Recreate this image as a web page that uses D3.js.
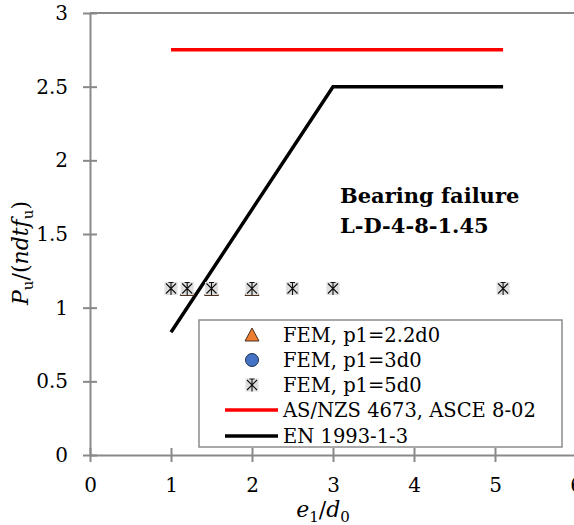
<!DOCTYPE html>
<html>
<head>
<meta charset="utf-8">
<script src="https://cdn.jsdelivr.net/npm/d3@7"></script>
<style>
  html, body { margin: 0; padding: 0; background: #fff; }
  svg text { font-family: "DejaVu Serif", "Liberation Serif", serif; fill: #000; }
</style>
</head>
<body>
<svg id="chart" width="574" height="525"></svg>
<script>
// Bearing resistance vs. end distance, L-D-4-8-1.45
const xTicks = [0, 1, 2, 3, 4, 5, 6];
const yTicks = [0, 0.5, 1, 1.5, 2, 2.5, 3];

// FEM results (normalised ultimate load)
const fem22X = [1.2, 1.5, 2.0];
const fem22Y = [1.13, 1.13, 1.13];
const fem3X = [];
const fem3Y = [];
const fem5X = [1.0, 1.2, 1.5, 2.0, 2.5, 3.0, 5.1];
const fem5Y = [1.13, 1.13, 1.13, 1.13, 1.13, 1.13, 1.13];

// Design code predictions
const asnzsX = [1.0, 5.1];
const asnzsY = [2.75, 2.75];
const enX = [1.0, 3.0, 5.1];
const enY = [0.833, 2.5, 2.5];

const legendLabels = ["FEM, p1=2.2d0", "FEM, p1=3d0", "FEM, p1=5d0", "AS/NZS 4673, ASCE 8-02", "EN 1993-1-3"];

const svg = d3.select("#chart");
const x = d3.scaleLinear().domain([0, 6]).range([90, 576]);
const y = d3.scaleLinear().domain([0, 3]).range([455, 13]);
const axisColor = "#898989";

// top boundary line at y = 3
svg.append("line")
  .attr("x1", x(0)).attr("x2", x(6))
  .attr("y1", y(3)).attr("y2", y(3))
  .attr("stroke", axisColor).attr("stroke-width", 2);

// axes with crossing tick marks
const xAxis = svg.append("g").attr("transform", `translate(0,${y(0)})`)
  .call(d3.axisBottom(x).tickValues(xTicks).tickSize(0).tickPadding(23).tickFormat(d3.format("d")));
xAxis.select(".domain").attr("stroke", axisColor).attr("stroke-width", 2);
xAxis.selectAll(".tick line").attr("y1", -7).attr("y2", 7).attr("stroke", axisColor).attr("stroke-width", 2);
xAxis.selectAll(".tick text").attr("font-size", 20).style("font-family", "DejaVu Serif");

const yAxis = svg.append("g").attr("transform", `translate(${x(0)},0)`)
  .call(d3.axisLeft(y).tickValues(yTicks).tickSize(0).tickPadding(22).tickFormat(d => String(d)));
yAxis.select(".domain").attr("stroke", axisColor).attr("stroke-width", 2);
yAxis.selectAll(".tick line").attr("x1", -7).attr("x2", 7).attr("stroke", axisColor).attr("stroke-width", 2);
yAxis.selectAll(".tick text").attr("font-size", 20).style("font-family", "DejaVu Serif");

// code lines
const line = d3.line().x(d => x(d[0])).y(d => y(d[1]));
svg.append("path").datum(d3.zip(asnzsX, asnzsY)).attr("d", line)
  .attr("fill", "none").attr("stroke", "#ff0000").attr("stroke-width", 3.5);
svg.append("path").datum(d3.zip(enX, enY)).attr("d", line)
  .attr("fill", "none").attr("stroke", "#000").attr("stroke-width", 3.5);

// marker helpers
function triangle(g, cx, cy) {
  g.append("path").attr("d", `M${cx},${cy - 7}L${cx + 7},${cy + 6}L${cx - 7},${cy + 6}Z`)
    .attr("fill", "#ed7d31").attr("stroke", "#4a3020").attr("stroke-width", 1);
}
function circle(g, cx, cy) {
  g.append("circle").attr("cx", cx).attr("cy", cy).attr("r", 6.5)
    .attr("fill", "#4472c4").attr("stroke", "#1f2f4f").attr("stroke-width", 1);
}
function star(g, cx, cy) {
  g.append("rect").attr("x", cx - 6.5).attr("y", cy - 6.5).attr("width", 13).attr("height", 13)
    .attr("fill", "#dedede");
  const s = 5;
  g.append("path")
    .attr("d", `M${cx - s},${cy - s}L${cx + s},${cy + s}M${cx + s},${cy - s}L${cx - s},${cy + s}` +
               `M${cx},${cy - 6.5}L${cx},${cy + 6.5}M${cx - 2.5},${cy - 6}L${cx + 2.5},${cy - 6}`)
    .attr("stroke", "#111").attr("stroke-width", 1.1).attr("fill", "none");
}

const marks = svg.append("g");
d3.zip(fem22X, fem22Y).forEach(d => triangle(marks, x(d[0]), y(d[1]) + 1));
d3.zip(fem3X, fem3Y).forEach(d => circle(marks, x(d[0]), y(d[1])));
d3.zip(fem5X, fem5Y).forEach(d => star(marks, x(d[0]), y(d[1])));

// annotation
const note = svg.append("text").attr("x", 340).attr("font-weight", "bold").attr("font-size", 21);
note.append("tspan").attr("x", 340).attr("y", 203).text("Bearing failure");
note.append("tspan").attr("x", 340).attr("y", 233).text("L-D-4-8-1.45");

// legend
const lg = svg.append("g");
lg.append("rect").attr("x", 199).attr("y", 320).attr("width", 363).attr("height", 127)
  .attr("fill", "#fff").attr("stroke", "#8c8c8c").attr("stroke-width", 1.5);
const rowY = [335, 360, 385, 410, 436];
triangle(lg, 252, rowY[0]);
circle(lg, 252, rowY[1]);
star(lg, 252, rowY[2]);
lg.append("line").attr("x1", 225).attr("x2", 278).attr("y1", rowY[3]).attr("y2", rowY[3])
  .attr("stroke", "#ff0000").attr("stroke-width", 3.5);
lg.append("line").attr("x1", 225).attr("x2", 278).attr("y1", rowY[4]).attr("y2", rowY[4])
  .attr("stroke", "#000").attr("stroke-width", 3.5);
legendLabels.forEach((t, i) => {
  lg.append("text").attr("x", 283).attr("y", rowY[i] + 7).attr("font-size", 19.5).text(t);
});

// axis titles
const xt = svg.append("text").attr("x", 323).attr("y", 517).attr("text-anchor", "middle")
  .attr("font-size", 22).attr("font-style", "italic");
xt.append("tspan").text("e");
xt.append("tspan").attr("font-size", 15).attr("font-style", "normal").attr("dy", 5).text("1");
xt.append("tspan").attr("dy", -5).attr("font-style", "normal").text("/");
xt.append("tspan").text("d");
xt.append("tspan").attr("font-size", 15).attr("font-style", "normal").attr("dy", 5).text("0");

const yt = svg.append("text").attr("transform", "translate(28,253) rotate(-90)")
  .attr("text-anchor", "middle").attr("font-size", 22).attr("font-style", "italic");
yt.append("tspan").text("P");
yt.append("tspan").attr("font-size", 15).attr("font-style", "normal").attr("dy", 5).text("u");
yt.append("tspan").attr("dy", -5).attr("font-style", "normal").text("/(");
yt.append("tspan").text("ndtf");
yt.append("tspan").attr("font-size", 15).attr("font-style", "normal").attr("dy", 5).text("u");
yt.append("tspan").attr("dy", -5).attr("font-style", "normal").text(")");
</script>
</body>
</html>
